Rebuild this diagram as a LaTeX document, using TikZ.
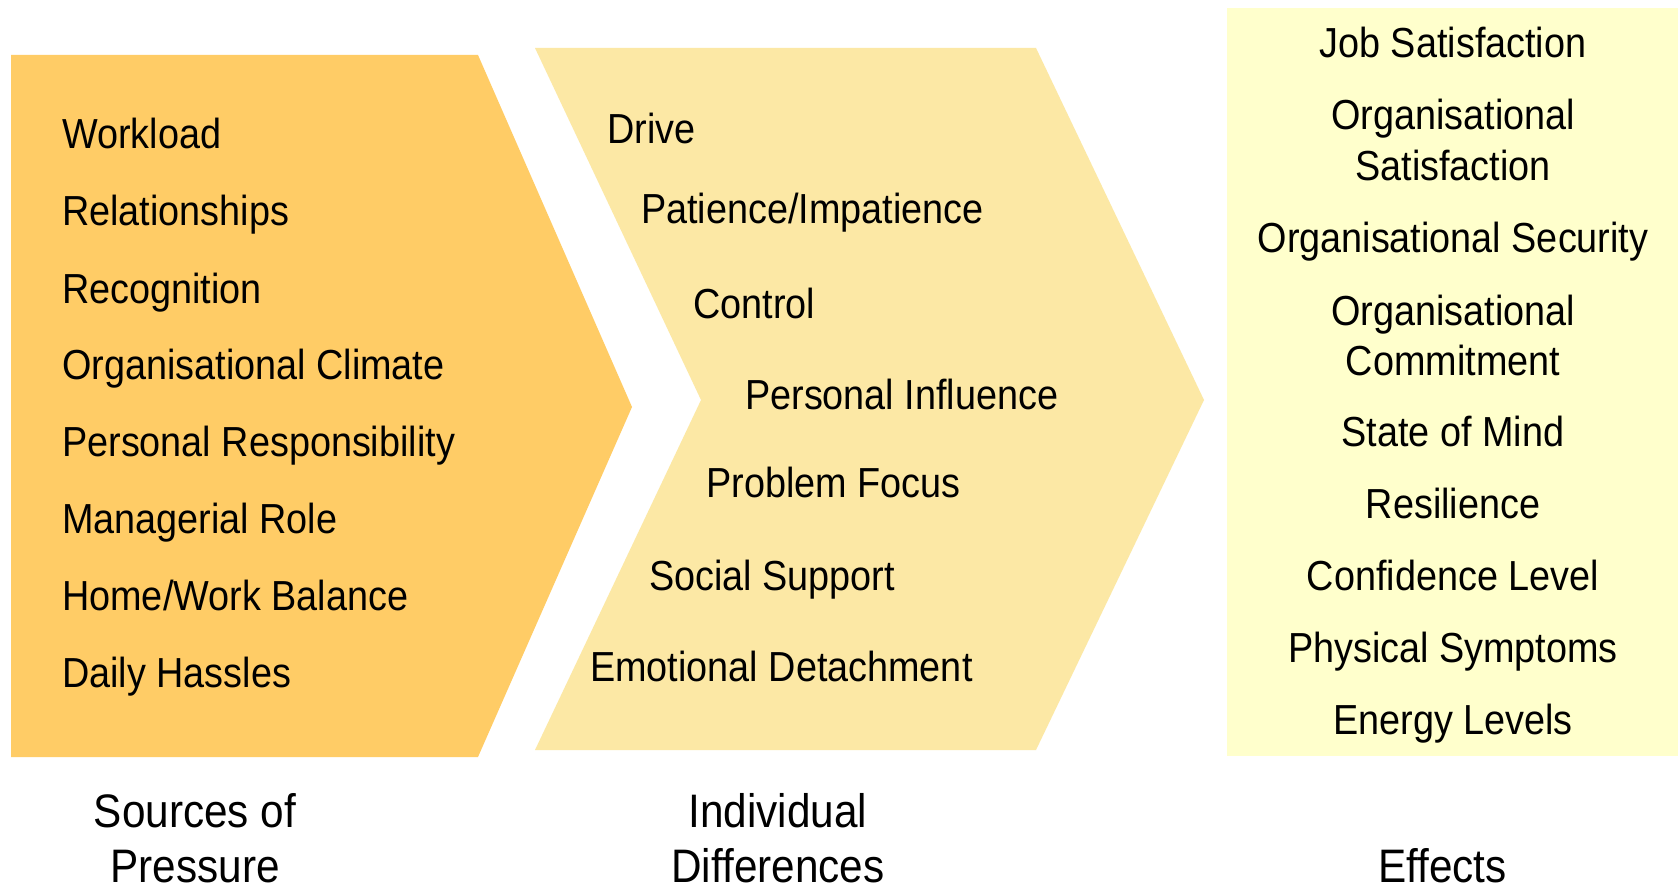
\documentclass[tikz,border=0pt]{standalone}
\usepackage{fontspec}
\setmainfont{Liberation Sans}[FakeStretch=0.9]
\definecolor{srcfill}{HTML}{FFCC66}
\definecolor{idfill}{HTML}{FCE8A5}
\definecolor{efffill}{HTML}{FFFFCC}
\begin{document}
\begin{tikzpicture}[x=1pt,y=-1pt,
  item/.style={anchor=base west, inner sep=0pt, font=\fontsize{42}{50}\selectfont},
  eff/.style={anchor=base, inner sep=0pt, font=\fontsize{42}{50}\selectfont},
  caption/.style={anchor=base, inner sep=0pt, font=\fontsize{47}{56}\selectfont}]
\useasboundingbox (0,0) rectangle (1678,885);
\fill[white] (0,0) rectangle (1678,885);
% shapes
\fill[srcfill] (11,55) -- (478,55) -- (632,407) -- (478,757) -- (11,757) -- cycle;
\fill[idfill] (535,48) -- (1036,48) -- (1204,400) -- (1036,750) -- (535,750) -- (701,400) -- cycle;
\fill[efffill] (1227,8) rectangle (1678,756);
% sources of pressure
\node[item] (s1) at (62,149) {Workload};
\node[item] (s2) at (62,226) {Relationships};
\node[item] (s3) at (62,303) {Recognition};
\node[item] (s4) at (62,379) {Organisational Climate};
\node[item] (s5) at (62,456) {Personal Responsibility};
\node[item] (s6) at (62,533) {Managerial Role};
\node[item] (s7) at (62,610) {Home/Work Balance};
\node[item] (s8) at (62,687) {Daily Hassles};
% individual differences
\node[item] (d1) at (607,144) {Drive};
\node[item] (d2) at (641,224) {Patience/Impatience};
\node[item] (d3) at (693,318) {Control};
\node[item] (d4) at (745,409) {Personal Influence};
\node[item] (d5) at (706,497) {Problem Focus};
\node[item] (d6) at (649,590) {Social Support};
\node[item] (d7) at (590,681) {Emotional Detachment};
% effects
\node[eff] (e1) at (1453,57.8) {Job Satisfaction};
\node[eff] (e2a) at (1453,129.5) {Organisational};
\node[eff] (e2b) at (1453,181) {Satisfaction};
\node[eff] (e3) at (1453,252.6) {Organisational Security};
\node[eff] (e4a) at (1453,325.4) {Organisational};
\node[eff] (e4b) at (1453,375.7) {Commitment};
\node[eff] (e5) at (1453,446.3) {State of Mind};
\node[eff] (e6) at (1453,518) {Resilience};
\node[eff] (e7) at (1453,590.8) {Confidence Level};
\node[eff] (e8) at (1453,662.5) {Physical Symptoms};
\node[eff] (e9) at (1453,734.2) {Energy Levels};
% captions
\node[caption] (c1a) at (195,827) {Sources of};
\node[caption] (c1b) at (195,882) {Pressure};
\node[caption] (c2a) at (778,827) {Individual};
\node[caption] (c2b) at (778,882) {Differences};
\node[caption] (c3) at (1442.6,882) {Effects};
\end{tikzpicture}
\end{document}
